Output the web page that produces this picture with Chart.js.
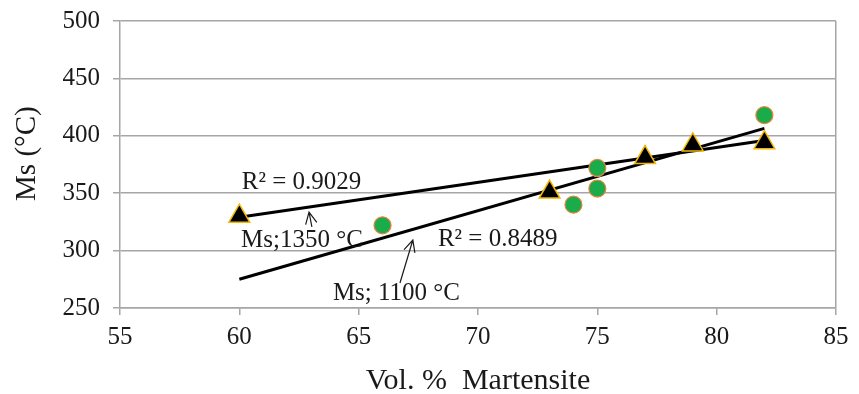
<!DOCTYPE html>
<html>
<head>
<meta charset="utf-8">
<script src="https://cdn.jsdelivr.net/npm/chart.js@4/dist/chart.umd.min.js"></script>
<style>
  html, body { margin: 0; padding: 0; background: #fff; }
  #wrap { width: 859px; height: 394px; }
</style>
</head>
<body>
<div id="wrap"><canvas id="chart" width="859" height="394"></canvas></div>
<script>
// Ms vs martensite volume fraction
const xTicks = [55, 60, 65, 70, 75, 80, 85];
const yTicks = [250, 300, 350, 400, 450, 500];

// 1350 °C series (triangles)
const tri_x = [60, 73, 77, 79, 82];
const tri_y = [330, 351, 381, 392, 394];
// 1100 °C series (circles)
const circ_x = [66, 74, 75, 75, 82];
const circ_y = [322, 340, 372, 354, 418];

// trendline ends
const trendX = [60, 82];
const trend1350 = [329, 396];
const trend1100 = [275, 406.5];

// labels: [text, x, y] in data units, arrows: [tailX, tailY, tipX, tipY]
const labels = [
  ['R\u00B2 = 0.9029', 60.1, 359],
  ['Ms;1350 \u00B0C', 60.07, 309.2],
  ['R\u00B2 = 0.8489', 68.32, 310.1],
  ['Ms; 1100 \u00B0C', 63.92, 262.8]
];
const arrows = [
  [63.04, 320.6, 62.92, 333.6],
  [66.73, 271.8, 67.27, 309.2]
];

const serif = "'Liberation Serif', 'Times New Roman', serif";
const gridGrey = '#a6a6a6';

function pts(xs, ys) {
  return xs.map((x, i) => ({ x: x, y: ys[i] }));
}

const notesPlugin = {
  id: 'notes',
  afterDatasetsDraw(chart) {
    const ctx = chart.ctx;
    const sx = chart.scales.x, sy = chart.scales.y;
    ctx.save();
    ctx.fillStyle = '#1a1a1a';
    ctx.font = '25px ' + serif;
    ctx.textAlign = 'left';
    ctx.textBaseline = 'middle';
    labels.forEach(l => {
      ctx.fillText(l[0], sx.getPixelForValue(l[1]), sy.getPixelForValue(l[2]));
    });
    ctx.strokeStyle = '#1a1a1a';
    ctx.lineWidth = 1.2;
    arrows.forEach(a => {
      const x0 = sx.getPixelForValue(a[0]), y0 = sy.getPixelForValue(a[1]);
      const x1 = sx.getPixelForValue(a[2]), y1 = sy.getPixelForValue(a[3]);
      const ang = Math.atan2(y1 - y0, x1 - x0);
      const len = 13, spread = 0.45;
      ctx.beginPath();
      ctx.moveTo(x0, y0);
      ctx.lineTo(x1, y1);
      ctx.moveTo(x1 - len * Math.cos(ang - spread), y1 - len * Math.sin(ang - spread));
      ctx.lineTo(x1, y1);
      ctx.lineTo(x1 - len * Math.cos(ang + spread), y1 - len * Math.sin(ang + spread));
      ctx.stroke();
    });
    ctx.restore();
  }
};

new Chart(document.getElementById('chart').getContext('2d'), {
  type: 'scatter',
  data: {
    datasets: [
      {
        label: 'Ms; 1350 °C',
        data: pts(tri_x, tri_y),
        pointStyle: 'triangle',
        pointRadius: 12,
        backgroundColor: '#000000',
        borderColor: '#f2b705',
        borderWidth: 1.5,
        order: 0
      },
      {
        label: 'Ms; 1100 °C',
        data: pts(circ_x, circ_y),
        pointStyle: 'circle',
        pointRadius: 8.5,
        backgroundColor: '#1aab4b',
        borderColor: '#e8843c',
        borderWidth: 1.2,
        order: 1
      },
      {
        label: 'trend 1350',
        data: pts(trendX, trend1350),
        showLine: true,
        borderColor: '#000000',
        borderWidth: 3,
        pointRadius: 0,
        order: 2
      },
      {
        label: 'trend 1100',
        data: pts(trendX, trend1100),
        showLine: true,
        borderColor: '#000000',
        borderWidth: 3,
        pointRadius: 0,
        order: 3
      }
    ]
  },
  options: {
    responsive: false,
    animation: false,
    events: [],
    layout: { padding: { top: 21, right: 23, left: 0, bottom: 0 } },
    plugins: {
      legend: { display: false },
      tooltip: { enabled: false }
    },
    scales: {
      x: {
        type: 'linear',
        min: 55,
        max: 85,
        afterBuildTicks: s => { s.ticks = xTicks.map(v => ({ value: v })); },
        afterFit: s => { s.height = 86; s.paddingLeft = 0; s.paddingRight = 0; },
        ticks: { color: '#1a1a1a', font: { family: serif, size: 25 }, padding: 7 },
        grid: {
          color: c => c.tick && c.tick.value === 85 ? gridGrey : 'transparent',
          tickColor: gridGrey,
          tickLength: 7,
          lineWidth: 1.5
        },
        border: { color: gridGrey, width: 1.5 },
        title: {
          display: true,
          text: 'Vol. %  Martensite',
          color: '#1a1a1a',
          font: { family: serif, size: 30, lineHeight: 1 },
          padding: { top: 0, bottom: -2 }
        }
      },
      y: {
        type: 'linear',
        min: 250,
        max: 500,
        afterBuildTicks: s => { s.ticks = yTicks.map(v => ({ value: v })); },
        afterFit: s => { s.width = 120; s.paddingTop = 0; s.paddingBottom = 0; },
        ticks: { color: '#1a1a1a', font: { family: serif, size: 25 }, padding: 13 },
        grid: { color: gridGrey, tickColor: gridGrey, tickLength: 7, lineWidth: 1.5 },
        border: { color: gridGrey, width: 1.5 },
        title: {
          display: true,
          text: '   Ms (\u00B0C)',
          color: '#1a1a1a',
          font: { family: serif, size: 29 },
          padding: { top: 10, bottom: 0 }
        }
      }
    }
  },
  plugins: [notesPlugin]
});
</script>
</body>
</html>
